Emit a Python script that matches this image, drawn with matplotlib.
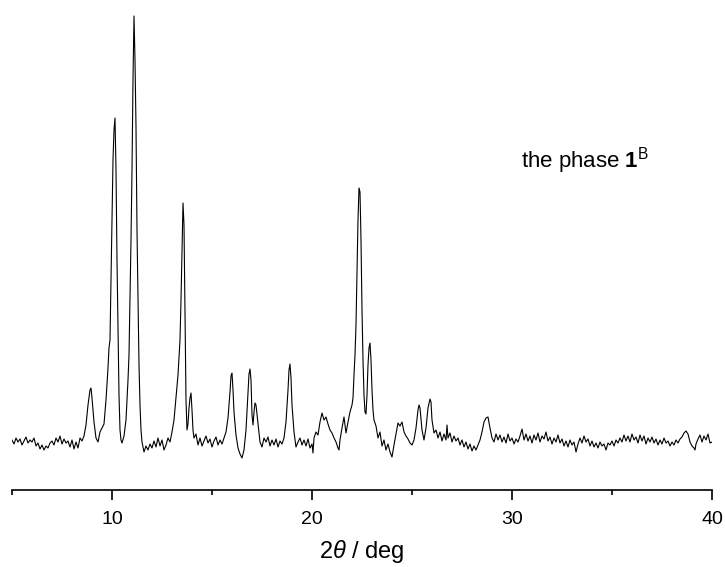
import matplotlib
matplotlib.use('Agg')
import matplotlib.pyplot as plt

plt.rcParams['font.family'] = ['Liberation Sans', 'DejaVu Sans']
plt.rcParams['mathtext.fontset'] = 'custom'
plt.rcParams['mathtext.rm'] = 'Liberation Sans'
plt.rcParams['mathtext.it'] = 'Liberation Sans:italic'
plt.rcParams['mathtext.bf'] = 'Liberation Sans:bold'

# powder pattern (2theta in deg, intensity in arb. units)
two_theta = [
    5.0, 5.1, 5.2, 5.3, 5.4, 5.5, 5.6, 5.7, 5.8, 5.9,
    6.0, 6.1, 6.2, 6.3, 6.4, 6.5, 6.6, 6.7, 6.8, 6.9,
    7.0, 7.1, 7.2, 7.3, 7.4, 7.5, 7.6, 7.7, 7.8, 7.9,
    8.0, 8.1, 8.2, 8.3, 8.4, 8.5, 8.6, 8.7, 8.8, 8.9, 8.95,
    9.0, 9.1, 9.2, 9.3, 9.4, 9.5, 9.6, 9.7, 9.8, 9.85, 9.9, 9.95,
    10.0, 10.05, 10.1, 10.15, 10.2, 10.25, 10.3, 10.35, 10.4, 10.45, 10.5,
    10.6, 10.7, 10.8, 10.85, 10.9, 10.95, 11.0, 11.05, 11.1, 11.15, 11.2,
    11.25, 11.3, 11.35, 11.4, 11.45, 11.5, 11.6, 11.7, 11.8, 11.9,
    12.0, 12.1, 12.2, 12.3, 12.4, 12.5, 12.6, 12.7, 12.8, 12.9,
    13.0, 13.1, 13.2, 13.3, 13.4, 13.45, 13.5, 13.55, 13.6, 13.65, 13.7,
    13.75, 13.8, 13.85, 13.9, 13.95, 14.0, 14.05, 14.1, 14.2, 14.3, 14.4,
    14.5, 14.6, 14.7, 14.8, 14.9,
    15.0, 15.1, 15.2, 15.3, 15.4, 15.5, 15.6, 15.7, 15.8, 15.9, 15.95,
    16.0, 16.05, 16.1, 16.2, 16.3, 16.4, 16.5, 16.6, 16.7, 16.8, 16.85,
    16.9, 16.95, 17.0, 17.05, 17.1, 17.15, 17.2, 17.3, 17.4, 17.5, 17.6,
    17.7, 17.8, 17.9, 18.0, 18.1, 18.2, 18.3, 18.4, 18.5, 18.6, 18.7,
    18.8, 18.85, 18.9, 18.95, 19.0, 19.1, 19.2, 19.3, 19.4, 19.5, 19.6,
    19.7, 19.8, 19.9, 20.0, 20.05, 20.1, 20.2, 20.3, 20.4, 20.5, 20.6,
    20.7, 20.8, 20.9, 21.0, 21.1, 21.2, 21.3, 21.35, 21.4, 21.5, 21.6,
    21.7, 21.8, 21.9, 22.0, 22.05, 22.1, 22.15, 22.2, 22.25, 22.3, 22.35,
    22.4, 22.45, 22.5, 22.55, 22.6, 22.65, 22.7, 22.75, 22.8, 22.85, 22.9,
    22.95, 23.0, 23.05, 23.1, 23.2, 23.3, 23.4, 23.5, 23.6, 23.7, 23.8,
    23.9, 24.0, 24.1, 24.2, 24.3, 24.4, 24.5, 24.6, 24.7, 24.8, 24.9,
    25.0, 25.1, 25.2, 25.3, 25.35, 25.4, 25.5, 25.6, 25.7, 25.8, 25.9,
    25.95, 26.0, 26.1, 26.2, 26.3, 26.4, 26.5, 26.6, 26.7, 26.75, 26.8,
    26.9, 27.0, 27.1, 27.2, 27.3, 27.4, 27.5, 27.6, 27.7, 27.8, 27.9,
    28.0, 28.1, 28.2, 28.3, 28.4, 28.5, 28.6, 28.7, 28.8, 28.9, 29.0,
    29.1, 29.2, 29.3, 29.4, 29.5, 29.6, 29.7, 29.8, 29.9,
    30.0, 30.1, 30.2, 30.3, 30.4, 30.5, 30.6, 30.7, 30.8, 30.9,
    31.0, 31.1, 31.2, 31.3, 31.4, 31.5, 31.6, 31.7, 31.8, 31.9,
    32.0, 32.1, 32.2, 32.3, 32.4, 32.5, 32.6, 32.7, 32.8, 32.9,
    33.0, 33.1, 33.2, 33.3, 33.4, 33.5, 33.6, 33.7, 33.8, 33.9,
    34.0, 34.1, 34.2, 34.3, 34.4, 34.5, 34.6, 34.7, 34.8, 34.9,
    35.0, 35.1, 35.2, 35.3, 35.4, 35.5, 35.6, 35.7, 35.8, 35.9,
    36.0, 36.1, 36.2, 36.3, 36.4, 36.5, 36.6, 36.7, 36.8, 36.9,
    37.0, 37.1, 37.2, 37.3, 37.4, 37.5, 37.6, 37.7, 37.8, 37.9,
    38.0, 38.1, 38.2, 38.3, 38.4, 38.5, 38.6, 38.7, 38.8, 38.9,
    39.0, 39.1, 39.15, 39.2, 39.3, 39.4, 39.5, 39.6, 39.7, 39.8, 39.9,
    40.0,
]
intensity = [
    20, 16, 22, 18, 21, 15, 19, 23, 17, 20,
    18, 22, 14, 17, 11, 15, 10, 14, 12, 17,
    19, 15, 22, 18, 24, 16, 21, 17, 19, 13,
    20, 11, 18, 12, 22, 19, 24, 35, 55, 70, 72,
    62, 38, 22, 18, 28, 32, 36, 60, 92, 112, 120, 180,
    240, 300, 330, 342, 290, 200, 130, 65, 30, 20, 17,
    24, 40, 80, 105, 160, 220, 290, 380, 444, 400, 333,
    230, 160, 95, 55, 30, 18, 8, 14, 10, 16,
    12, 19, 13, 22, 14, 20, 10, 15, 22, 18,
    28, 40, 62, 85, 120, 160, 210, 257, 235, 150, 60,
    30, 36, 52, 62, 67, 50, 30, 22, 26, 15, 22,
    14, 19, 24, 17, 21,
    13, 19, 23, 15, 20, 16, 22, 28, 42, 68, 84,
    87, 70, 48, 25, 12, 6, 2, 10, 30, 68, 86,
    91, 80, 45, 35, 48, 57, 55, 36, 18, 13, 22,
    18, 23, 14, 20, 15, 21, 13, 19, 16, 22, 38,
    70, 90, 96, 82, 55, 28, 13, 18, 22, 15, 20,
    14, 21, 12, 16, 7, 22, 28, 25, 38, 47, 40,
    43, 36, 30, 27, 22, 18, 12, 10, 20, 32, 43,
    27, 38, 48, 55, 62, 85, 105, 135, 190, 240, 272,
    268, 220, 150, 100, 65, 48, 46, 65, 95, 112, 117,
    100, 70, 50, 40, 34, 22, 28, 14, 20, 10, 16,
    8, 3, 15, 26, 37, 34, 38, 28, 24, 21, 17,
    15, 20, 32, 50, 55, 52, 30, 20, 32, 52, 61,
    58, 40, 27, 30, 22, 28, 19, 26, 20, 35, 22,
    27, 18, 24, 19, 22, 15, 20, 13, 18, 11, 16,
    9, 14, 10, 15, 20, 28, 38, 42, 43, 32, 22,
    18, 26, 20, 25, 18, 23, 17, 26, 19,
    22, 16, 21, 18, 24, 31, 20, 26, 19, 24,
    17, 25, 20, 27, 18, 24, 21, 28, 19, 23,
    16, 22, 18, 25, 17, 21, 14, 19, 13, 20,
    15, 18, 8, 16, 22, 17, 24, 18, 21, 14,
    19, 13, 17, 12, 18, 14, 16, 10, 17, 15,
    19, 14, 20, 17, 22, 18, 25, 19, 24, 18,
    26, 20, 23, 17, 25, 19, 24, 16, 22, 18,
    23, 17, 21, 15, 20, 16, 22, 17, 19, 14,
    18, 15, 20, 17, 21, 23, 27, 29, 26, 18,
    14, 12, 10, 16, 21, 25, 18, 24, 20, 26, 17,
    18,
]

major_ticks = [10, 20, 30, 40]
minor_ticks = [5, 15, 25, 35]

fig = plt.figure(figsize=(7.25, 5.67), dpi=100)
ax = fig.add_axes([12 / 725, 77 / 567, 700 / 725, 490 / 567])

ax.plot(two_theta, intensity, color='black', lw=0.8)

ax.set_xlim(5, 40)
ax.set_ylim(-30, 460)

for side in ['top', 'right', 'left']:
    ax.spines[side].set_visible(False)
ax.spines['bottom'].set_linewidth(1.2)
ax.set_yticks([])
ax.set_xticks(major_ticks)
ax.set_xticks(minor_ticks, minor=True)
ax.tick_params(axis='x', which='major', direction='out', length=7, width=1.2,
               labelsize=14, pad=8)
ax.tick_params(axis='x', which='minor', direction='out', length=3.5, width=1.2)

ax.set_xlabel(r'2$\mathit{\theta}$ / deg', fontsize=17, labelpad=7)

fig.text(521 / 725, 1 - 167 / 567, r'the phase $\mathbf{1}^{\mathrm{B}}$',
         fontsize=16, ha='left', va='baseline')

fig.savefig('out.png', dpi=100)
